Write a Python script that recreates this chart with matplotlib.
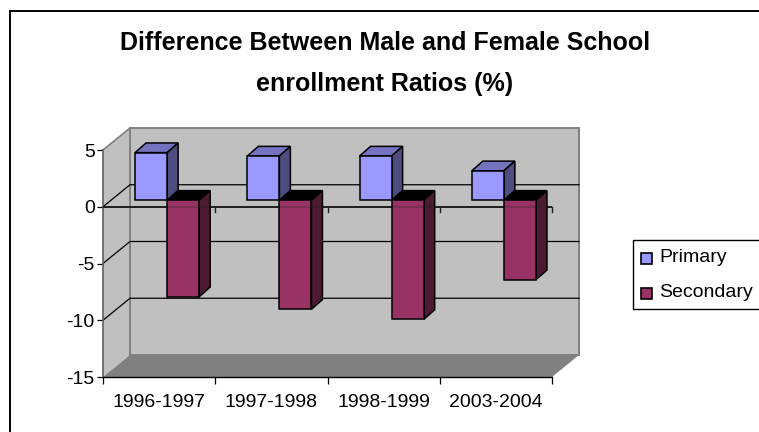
import matplotlib
matplotlib.use('Agg')
import matplotlib.pyplot as plt
from matplotlib.patches import Polygon, Rectangle

categories = ['1996-1997', '1997-1998', '1998-1999', '2003-2004']
primary = [4.2, 3.9, 3.9, 2.6]
secondary = [-8.5, -9.6, -10.5, -7.0]
y_ticks = [-15, -10, -5, 0, 5]

W, H = 759, 432
X0, X1 = 103, 552   # front of the x axis in pixels
Y0, Y1 = 377, 150   # -15 and 5 in pixels

plt.rcParams['font.family'] = ['Liberation Sans', 'DejaVu Sans']
plt.rcParams['axes.unicode_minus'] = False
fig = plt.figure(figsize=(W / 100, H / 100), dpi=100)
ax = fig.add_axes([X0 / W, 1 - Y0 / H, (X1 - X0) / W, (Y0 - Y1) / H])
ax.set_xlim(0, 4)
ax.set_ylim(-15, 5)
ax.patch.set_visible(False)

# depth of the walls and of the bars, in data units
wall_dx, wall_dy = 27 / 112.25, 22 / 11.35
bar_dx, bar_dy = 11 / 112.25, 0.85
off_dx, off_dy = 8 / 112.25, 0.57
bar_w = 1 / 3.5
gap = 0.75 * bar_w


def poly(pts, color, edge='none', lw=0, z=1):
    ax.add_patch(Polygon(pts, closed=True, facecolor=color, edgecolor=edge,
                         linewidth=lw, zorder=z, clip_on=False, joinstyle='miter'))


# walls
poly([(wall_dx, -15 + wall_dy), (4 + wall_dx, -15 + wall_dy),
      (4 + wall_dx, 5 + wall_dy), (wall_dx, 5 + wall_dy)], '#c0c0c0', '#808080', 1.4, 1)
poly([(0, -15), (wall_dx, -15 + wall_dy), (wall_dx, 5 + wall_dy), (0, 5)], '#c0c0c0', z=1)
poly([(0, -15), (4, -15), (4 + wall_dx, -15 + wall_dy), (wall_dx, -15 + wall_dy)], '#808080', z=1.5)
ax.plot([wall_dx, wall_dx], [-15 + wall_dy, 5 + wall_dy], color='#808080', lw=1.4, zorder=1.6, clip_on=False)
ax.plot([0, wall_dx], [5, 5 + wall_dy], color='#808080', lw=1.2, zorder=1.6, clip_on=False)

# gridlines on the walls
for v in y_ticks[1:-1]:
    ax.plot([0, wall_dx, 4 + wall_dx], [v, v + wall_dy, v + wall_dy],
            color='black', lw=0.9, zorder=2, clip_on=False)

# zero line with its ticks
ax.plot([0, 4], [0, 0], color='#202020', lw=1.4, zorder=2.5)
for i in range(1, 5):
    ax.plot([i, i], [0, -0.45], color='#202020', lw=1.0, zorder=2.5, clip_on=False)

# bars, primary above the base, secondary below it
for i in range(len(categories)):
    x = i + gap + off_dx
    for j, (val, front, side, top) in enumerate([
            (primary[i], '#9999ff', '#4d4d80', '#7373bf'),
            (secondary[i], '#993366', '#4d1a33', '#000000')]):
        xl = x + j * bar_w
        xr = xl + bar_w
        base = off_dy
        hi = base + max(val, 0)
        lo = base + min(val, 0)
        z = 3 + j
        poly([(xl, hi), (xr, hi), (xr + bar_dx, hi + bar_dy), (xl + bar_dx, hi + bar_dy)],
             top, 'black', 1.1, z)
        poly([(xr, lo), (xr + bar_dx, lo + bar_dy), (xr + bar_dx, hi + bar_dy), (xr, hi)],
             side, 'black', 1.1, z)
        poly([(xl, lo), (xr, lo), (xr, hi), (xl, hi)], front, 'black', 1.1, z)

# zero line shows faintly through the bars
ax.plot([0, 4], [0, 0], color='#202020', lw=1.2, alpha=0.3, zorder=5)

ax.set_yticks(y_ticks)
ax.set_xticks(range(5))
ax.set_xticklabels([])
ax.tick_params(axis='y', labelsize=14, length=4, width=0.9, pad=2, colors='black')
ax.tick_params(axis='x', length=5, width=0.9)
for s in ['top', 'right']:
    ax.spines[s].set_visible(False)
ax.spines['left'].set_color('#606060')
ax.spines['left'].set_linewidth(1.2)
ax.spines['bottom'].set_linewidth(1.0)
for s in ['left', 'bottom']:
    ax.spines[s].set_zorder(2.2)
for i, c in enumerate(categories):
    ax.annotate(c, (i + 0.5, -15), xytext=(0, -17), textcoords='offset pixels',
                ha='center', va='top', fontsize=14)

# title
fig.text(385 / W, 1 - 43 / H, 'Difference Between Male and Female School', ha='center', va='center',
         fontsize=18, fontweight='bold')
fig.text(385 / W, 1 - 84 / H, 'enrollment Ratios (%)', ha='center', va='center',
         fontsize=18, fontweight='bold')

# legend box, cut by the edge of the picture on the right
fig.add_artist(Rectangle((632.5 / W, 1 - 309 / H), 140 / W, 69 / H, transform=fig.transFigure,
                         facecolor='white', edgecolor='black', linewidth=1))
for yp, col, name in [(258.5, '#9999ff', 'Primary'), (293.5, '#993366', 'Secondary')]:
    fig.add_artist(Rectangle((640.5 / W, 1 - (yp + 5.5) / H), 11 / W, 11 / H, transform=fig.transFigure,
                             facecolor=col, edgecolor='black', linewidth=1.2))
    fig.text(659 / W, 1 - (yp - 0.8) / H, name, ha='left', va='center', fontsize=14)

# chart frame, only top and left fall inside the picture
fig.add_artist(Rectangle((10 / W, -20 / H), 780 / W, 441 / H, transform=fig.transFigure,
                         facecolor='none', edgecolor='black', linewidth=1.4))

fig.savefig('out.png', dpi=100)
